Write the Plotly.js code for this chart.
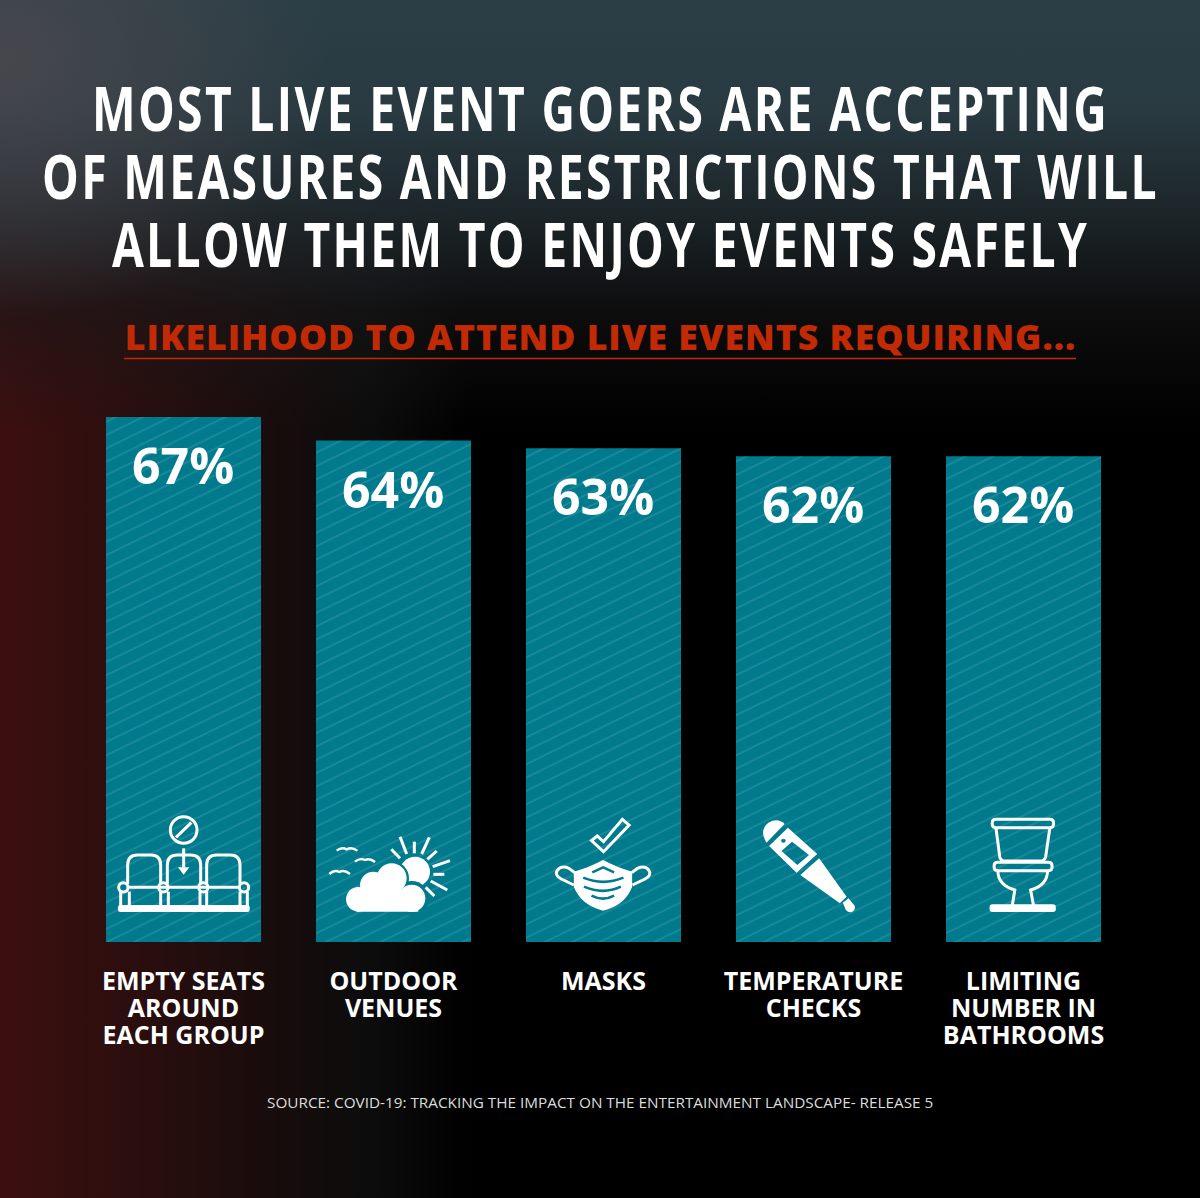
<!DOCTYPE html>
<html><head><meta charset="utf-8">
<script src="https://cdn.plot.ly/plotly-3.0.1.min.js"></script>
<style>
html,body{margin:0;padding:0;background:#000}
#chart{width:1200px;height:1198px;background:
 radial-gradient(ellipse 330px 260px at 0px 60px, rgba(78,74,80,.8), rgba(78,74,80,0)),
 linear-gradient(to bottom, rgba(43,62,70,1) 0px, rgba(41,58,65,1) 110px, rgba(32,42,46,.85) 220px, rgba(24,24,26,.55) 310px, rgba(0,0,0,0) 430px),
 linear-gradient(to right, #3c0f0f 0px, #2c0e0e 130px, #170c0c 280px, #0c0c0c 370px, #000 470px);}
</style></head><body>
<div id="chart"></div>
<script>
const titleLines = ["MOST LIVE EVENT GOERS ARE ACCEPTING","OF MEASURES AND RESTRICTIONS THAT WILL","ALLOW THEM TO ENJOY EVENTS SAFELY"];
const subtitle = "LIKELIHOOD TO ATTEND LIVE EVENTS REQUIRING...";
const labelLines = [["EMPTY SEATS","AROUND","EACH GROUP"],["OUTDOOR","VENUES"],["MASKS"],["TEMPERATURE","CHECKS"],["LIMITING","NUMBER IN","BATHROOMS"]];
const categories = labelLines.map(l=>l.join("<br>"));
const values = [67,64,63,62,62];
const source = "SOURCE: COVID-19: TRACKING THE IMPACT ON THE ENTERTAINMENT LANDSCAPE- RELEASE 5";

const W=1200,H=1198,TOP=400,BASE=942,PX=7.836,STEP=210,C0=183.5;
const TEAL="#007a8c";
const paperY=py=>(BASE-py)/(BASE-TOP);
const open="Open Sans, sans-serif";

const txt=(t,px,py,size,color,weight,family)=>({text:t,xref:"paper",yref:"paper",x:px/W,y:paperY(py),xanchor:"center",yanchor:"middle",showarrow:false,font:{family:family||open,size,color,weight:weight||700}});

const annotations=[];
annotations.push(txt(subtitle,600,337,35,"#c22a06",800));
values.forEach((v,i)=>annotations.push({text:v+"%",xref:"x",yref:"y",x:categories[i],y:v,yanchor:"middle",xanchor:"center",xshift:-1,yshift:-48,showarrow:false,font:{family:open,size:50,color:"#fff",weight:700}}));
annotations.push(txt(source,600,1102,15.3,"#dcdcdc",400));

const circ=(x,y,r)=>{const k=.5523*r;return `M${x-r},${y} C${x-r},${y-k} ${x-k},${y-r} ${x},${y-r} C${x+k},${y-r} ${x+r},${y-k} ${x+r},${y} C${x+r},${y+k} ${x+k},${y+r} ${x},${y+r} C${x-k},${y+r} ${x-r},${y+k} ${x-r},${y} Z`;};
const rr=(a,b,c,d,r)=>`M${a+r},${b} L${c-r},${b} Q${c},${b} ${c},${b+r} L${c},${d-r} Q${c},${d} ${c-r},${d} L${a+r},${d} Q${a},${d} ${a},${d-r} L${a},${b+r} Q${a},${b} ${a+r},${b} Z`;
const shapes=[];
function add(i,ox,path,o={}){
  const cx=C0+STEP*i, s=ox===90?3:1568/590;
  const p=path.replace(/(-?[\d.]+),(-?[\d.]+)/g,(m,a,b)=>{
    const X=ox+(+a)/s,Y=780+(+b)/3;return (X-cx).toFixed(2)+","+(BASE-Y).toFixed(2);});
  shapes.push({type:"path",layer:"above",xref:"x",yref:"y",xsizemode:"pixel",ysizemode:"pixel",xanchor:categories[i],yanchor:0,path:p,
    fillcolor:o.fill||"rgba(0,0,0,0)",line:{color:o.color||"#fff",width:o.width===undefined?3:o.width}});
}
const solid={fill:"#fff",width:0};
// seats
add(0,90,circ(281,150,40));
add(0,90,"M258,172 L304,128");
add(0,90,"M281,205 L281,262");
add(0,90,"M264,262 L298,262 L281,284 Z",solid);
[[113,212],[232,332],[350,450]].forEach(([a,b])=>add(0,90,`M${a},312 L${a},255 Q${a},225 ${a+30},225 L${b-30},225 Q${b},225 ${b},255 L${b},312`));
add(0,90,"M113,322 L450,322");
[100,220,340,462].forEach(x=>add(0,90,circ(x,322,14)));
[92,118,212,235,330,350,450,472].forEach(x=>add(0,90,`M${x},335 L${x},378`));
add(0,90,rr(84,375,479,396,7),solid);
// outdoor venues
add(1,90,circ(975,275,45),solid);
[[905,295,52],[965,355,52]].forEach(([x,y,r])=>add(1,90,circ(x,y,r),{fill:TEAL,width:0}));
[[805,358,37],[850,315,40],[905,295,45],[965,355,41]].forEach(([x,y,r])=>add(1,90,circ(x,y,r),solid));
add(1,90,"M790,330 L985,330 L985,395 L800,395 Z",solid);
[["930,170","950,222"],["973,185","973,220"],["1018,172","995,222"],["1040,213","1012,238"],["1080,242","1028,260"],["1063,283","1030,283"],["1072,330","1022,303"],["1033,348","1007,322"],["904,208","930,235"]]
 .forEach(([a,b])=>add(1,90,`M${a} L${b}`));
["M740,212 Q755,200 770,208 Q785,200 802,212","M795,245 Q810,233 825,240 Q840,233 855,246","M718,282 Q733,268 748,276 Q763,268 780,282"]
 .forEach(p=>add(1,90,p,{width:2.4}));
// mask
add(2,520,"M190,182 L205,168 L222,185 L272,118 L290,135 L222,215 Z");
add(2,520,"M143,275 Q185,262 221,240 Q257,262 298,275 L298,320 Q280,375 221,392 Q162,375 143,320 Z",solid);
["M192,277 L221,262 L250,277","M168,293 Q221,318 275,293","M170,320 Q221,345 268,320","M190,347 Q221,365 250,347"].forEach(p=>add(2,520,p,{color:TEAL,width:2.6}));
add(2,520,"M143,315 L110,297 Q90,285 100,270 Q110,255 130,265 L145,278");
add(2,520,"M299,315 L332,297 Q352,285 342,270 Q332,255 312,265 L297,278");
// thermometer
add(3,520,"M655,188 Q635,150 660,128 Q685,112 703,132 Z",solid);
add(3,520,"M712,143 L790,222 L735,278 L662,198 Z M723,185 L768,225 L737,255 L695,213 Z "+circ(700,182,6),solid);
add(3,520,"M795,235 L868,350 L850,370 L745,285 Z",solid);
add(3,520,"M858,368 L873,355 L890,378 Q892,392 880,397 Q872,398 866,390 Z",solid);
// toilet
add(4,520,rr(1255,118,1418,143,10));
add(4,520,"M1265,145 L1275,230 Q1277,243 1290,243 L1382,243 Q1395,243 1397,230 L1408,145");
add(4,520,rr(1260,247,1414,272,10));
add(4,520,"M1270,272 Q1270,315 1315,330 L1308,378");
add(4,520,"M1402,272 Q1402,315 1357,330 L1365,378");
add(4,520,rr(1248,373,1424,396,8),solid);
// subtitle rule
shapes.push({type:"line",xref:"paper",yref:"paper",x0:124/W,x1:1076/W,y0:paperY(358.5),y1:paperY(358.5),line:{color:"#c22a06",width:1.6}});

const trace={type:"bar",x:categories,y:values,width:155/STEP,hoverinfo:"skip",
  marker:{color:TEAL,line:{width:0},pattern:{shape:"-",fgcolor:"#55b0bd",bgcolor:TEAL,size:12,solidity:.09,fillmode:"overlay"}}};
const layout={width:W,height:H,autosize:false,showlegend:false,margin:{l:0,r:0,t:TOP,b:H-BASE,pad:0},
  paper_bgcolor:"rgba(0,0,0,0)",plot_bgcolor:"rgba(0,0,0,0)",
  title:{text:titleLines.join("<br>"),font:{family:open,size:60,color:"#fff",weight:700},x:600.5/W,xanchor:"center",xref:"container",yref:"container",y:1-131/H,yanchor:"top"},
  xaxis:{type:"category",categoryorder:"array",categoryarray:categories,range:[-C0/STEP,(W-C0)/STEP],showgrid:false,zeroline:false,ticks:"",showline:false,fixedrange:true,tickangle:0,
    tickfont:{family:open,size:25,color:"#fff",weight:700},ticklabelstandoff:22},
  yaxis:{range:[0,(BASE-TOP)/PX],visible:false,showgrid:false,zeroline:false,fixedrange:true},
  annotations,shapes};
function squeeze(t,target){
  const w=t.getBBox().width;
  t.style.transformBox="fill-box";t.style.transformOrigin="center";t.style.transform=`scaleX(${target/w})`;
}
Plotly.newPlot("chart",[trace],layout,{displayModeBar:false,staticPlot:true}).then(()=>{
  document.querySelectorAll("#chart pattern").forEach(p=>p.setAttribute("patternTransform","rotate(-26)"));
  const respace=(t,gap)=>t.querySelectorAll("tspan.line").forEach((s,j)=>s.setAttribute("dy",(j*gap)+"px"));
  document.querySelectorAll("#chart .xtick text").forEach(t=>respace(t,27));
  const gt=document.querySelector("#chart .gtitle");
  if(gt){gt.style.letterSpacing="3px";respace(gt,68);squeeze(gt,1117);}
  document.querySelectorAll("#chart .annotation-text").forEach(t=>{
    if(t.textContent===subtitle){t.style.letterSpacing="1px";squeeze(t,952);}
  });
});
</script></body></html>
